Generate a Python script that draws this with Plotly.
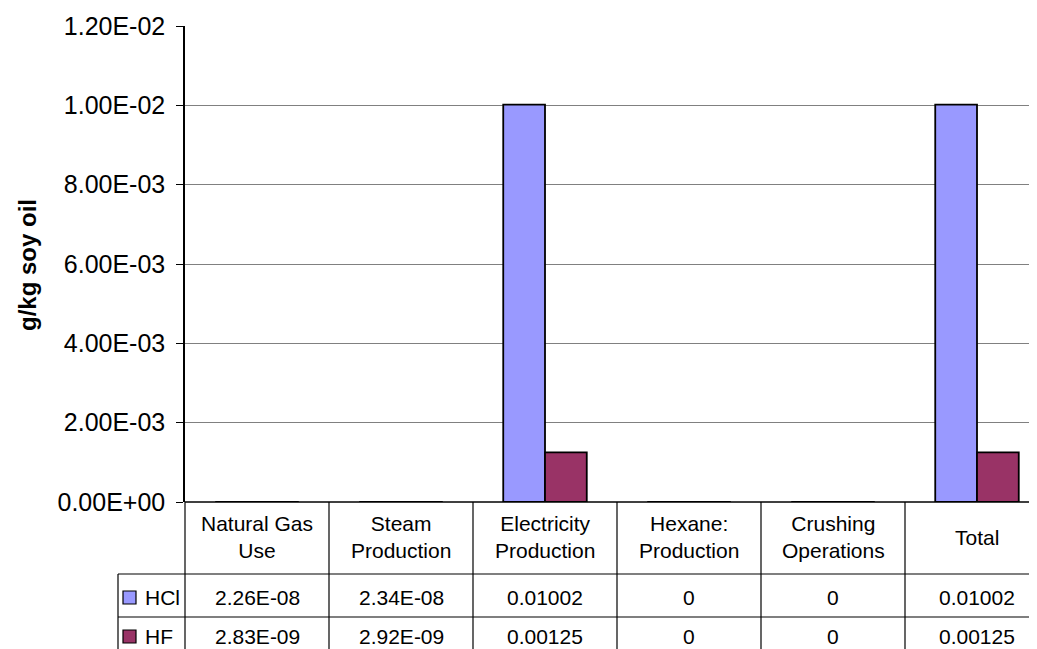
import plotly.graph_objects as go

categories = ["Natural Gas<br>Use", "Steam<br>Production", "Electricity<br>Production",
              "Hexane:<br>Production", "Crushing<br>Operations", "Total"]
series_names = ["HCl", "HF"]
hcl_values = [2.26e-08, 2.34e-08, 0.01002, 0, 0, 0.01002]
hf_values = [2.83e-09, 2.92e-09, 0.00125, 0, 0, 0.00125]
series_colors = ["#9999FF", "#993366"]
tick_values = [0, 0.002, 0.004, 0.006, 0.008, 0.010, 0.012]
tick_labels = ["0.00E+00", "2.00E-03", "4.00E-03", "6.00E-03", "8.00E-03", "1.00E-02", "1.20E-02"]

OFF = 8  # page body margin
W, H = 1037 - OFF, 649 - OFF
L, T = 185 - OFF, 26 - OFF
PLOT_BOTTOM = 502 - OFF
B = H - PLOT_BOTTOM
PW, PH = W - L, PLOT_BOTTOM - T
CAT_PX = 144.0
FONT = "Liberation Sans, Arial, sans-serif"


def py(pix):
    """screenshot pixel row -> paper y"""
    return (PLOT_BOTTOM - (pix - OFF)) / PH


def px(pix):
    """screenshot pixel column -> paper x"""
    return ((pix - OFF) - L) / PW


def fmt(v):
    if v == 0:
        return "0"
    if abs(v) < 1e-4:
        return f"{v:.2E}"
    return str(v)


x_idx = list(range(len(categories)))
fig = go.Figure()
for name, vals, col in zip(series_names, [hcl_values, hf_values], series_colors):
    fig.add_trace(go.Bar(x=x_idx, y=vals, name=name, marker_color=col,
                         marker_line_color="black", marker_line_width=1.8,
                         showlegend=False))

x_max = -0.5 + PW / CAT_PX
fig.update_layout(
    width=W, height=H,
    margin=dict(l=L, r=0, t=T, b=B, pad=0),
    paper_bgcolor="white", plot_bgcolor="white",
    barmode="group", bargap=0.42, bargroupgap=0,
    font=dict(family=FONT, color="black"),
    xaxis=dict(range=[-0.5, x_max], showticklabels=False, showgrid=False,
               zeroline=False, showline=False, ticks=""),
    yaxis=dict(range=[0, 0.012], tickvals=tick_values, ticktext=tick_labels,
               tickfont=dict(size=25), ticks="outside", ticklen=7, tickcolor="black",
               ticklabelstandoff=6,
               showgrid=True, gridcolor="#808080", gridwidth=1,
               showline=True, linecolor="black", linewidth=1.5, zeroline=False),
)

shapes = []
line = dict(color="black", width=1.2)
shapes.append(dict(type="line", xref="paper", yref="paper", x0=0, x1=1, y0=0, y1=0,
                   line=dict(color="black", width=1.5)))
for yy in [574, 617, 659]:
    shapes.append(dict(type="line", xref="paper", yref="paper", x0=px(118), x1=1,
                       y0=py(yy), y1=py(yy), line=line))
shapes.append(dict(type="line", xref="paper", yref="paper", x0=0, x1=0,
                   y0=0, y1=py(670), line=line))
shapes.append(dict(type="line", xref="paper", yref="paper", x0=px(118), x1=px(118),
                   y0=py(574), y1=py(670), line=line))
for i in range(len(categories)):
    shapes.append(dict(type="line", xref="x", yref="paper", x0=i + 0.5, x1=i + 0.5,
                       y0=0, y1=py(670), line=line))
row_y = [597, 636]
for j, (name, col) in enumerate(zip(series_names, series_colors)):
    yc = row_y[j]
    shapes.append(dict(type="rect", xref="paper", yref="paper",
                       x0=px(123), x1=px(136), y0=py(yc + 7), y1=py(yc - 6),
                       fillcolor=col, line=dict(color="black", width=1.2)))
fig.update_layout(shapes=shapes)

ann = []
for i, c in enumerate(categories):
    ann.append(dict(x=i, y=py(537), xref="x", yref="paper", text=c, showarrow=False,
                    font=dict(size=21), align="center", yanchor="middle"))
    for j, vals in enumerate([hcl_values, hf_values]):
        ann.append(dict(x=i, y=py(row_y[j]), xref="x", yref="paper", text=fmt(vals[i]),
                        showarrow=False, font=dict(size=21), yanchor="middle"))
for j, name in enumerate(series_names):
    ann.append(dict(x=px(143), y=py(row_y[j]), xref="paper", yref="paper", text=name,
                    showarrow=False, font=dict(size=21), xanchor="left", yanchor="middle"))
ann.append(dict(x=px(27), y=py(265), xref="paper", yref="paper", text="<b>g/kg soy oil</b>",
                textangle=-90, showarrow=False, font=dict(size=24),
                xanchor="center", yanchor="middle"))
fig.update_layout(annotations=ann)

fig.write_html("out.html")
